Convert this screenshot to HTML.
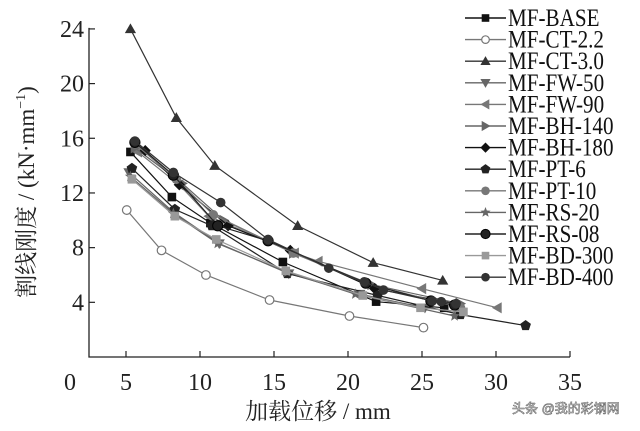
<!DOCTYPE html>
<html><head><meta charset="utf-8">
<style>
html,body{margin:0;padding:0;background:#fff;}
svg{display:block;}
text{font-family:"Liberation Serif","Noto Serif CJK SC",serif;}
</style></head>
<body>
<svg id="chart" width="640" height="431" viewBox="0 0 640 431" xmlns="http://www.w3.org/2000/svg">
<g id="plot"></g>
<g id="legend"></g>
<text transform="translate(34,192) rotate(-90)" text-anchor="middle" font-size="23" fill="#222" style='font-family:"Liberation Serif","Noto Serif CJK SC",serif'>割线刚度 / (kN·mm<tspan font-size="14" dy="-9">−1</tspan><tspan dy="9">)</tspan></text>
<text x="318" y="419" text-anchor="middle" font-size="23" fill="#222">加载位移 / mm</text>
<text x="512" y="413" font-size="13" fill="#fff" stroke="#666" stroke-width="0.6" style='font-family:"Liberation Sans","Noto Sans CJK SC",sans-serif'>头条 @我的彩钢网</text>
</svg>
<script>
const xTicks=[0,5,10,15,20,25,30,35];
const yTicks=[4,8,12,16,20,24];
const seriesNames=["MF-BASE","MF-CT-2.2","MF-CT-3.0","MF-FW-50","MF-FW-90","MF-BH-140","MF-BH-180","MF-PT-6","MF-PT-10","MF-RS-20","MF-RS-08","MF-BD-300","MF-BD-400"];
const baseX=[5.3,8.1,10.7,15.6,21.9,26.5], baseY=[15.0,11.7,9.8,6.95,4.05,3.6];
const ct22X=[5.05,7.4,10.4,14.7,20.1,25.1], ct22Y=[10.75,7.8,6.0,4.17,3.0,2.15];
const ct30X=[5.3,8.4,11.0,16.6,21.7,26.4], ct30Y=[24.0,17.5,14.0,9.6,6.9,5.6];
const fw50X=[5.2,8.2,11.3,16.0,20.8,25.2,27.5], fw50Y=[13.5,10.6,8.3,6.1,4.6,3.6,3.3];
const fw90X=[5.8,8.6,10.6,16.4,18.0,25.0,30.1], fw90Y=[15.0,12.6,10.3,7.6,7.0,5.0,3.6];
const bh140X=[5.6,8.8,11.6,16.3,21.6,27.6], bh140Y=[15.3,12.7,10.0,7.6,5.3,3.9];
const bh180X=[6.3,8.6,11.9,16.1,21.8,27.3], bh180Y=[15.1,12.6,9.6,7.8,5.0,3.9];
const pt6X=[5.4,8.3,10.8,15.9,22.0,27.6,32.0], pt6Y=[13.8,10.8,9.6,6.1,4.5,3.1,2.3];
const pt10X=[5.6,8.4,10.9,16.3,21.2,27.6], pt10Y=[15.6,13.0,10.4,7.6,5.4,3.6];
const rs20X=[5.3,8.2,11.2,15.9,20.5,27.2], rs20Y=[13.2,10.5,8.3,6.2,4.6,3.0];
const rs08X=[5.6,8.2,11.2,14.6,21.2,25.6,27.2], rs08Y=[15.7,13.3,9.6,8.5,5.4,4.1,3.8];
const bd300X=[5.4,8.3,11.1,15.8,21.0,24.9,27.8], bd300Y=[13.0,10.3,8.6,6.3,4.5,3.6,3.3];
const bd400X=[5.6,8.2,11.4,14.6,18.7,21.1,22.4,25.7,26.3,27.3], bd400Y=[15.8,13.5,11.3,8.6,6.5,5.5,4.9,4.1,4.05,3.9];

const seriesData=[[baseX,baseY],[ct22X,ct22Y],[ct30X,ct30Y],[fw50X,fw50Y],[fw90X,fw90Y],[bh140X,bh140Y],[bh180X,bh180Y],[pt6X,pt6Y],[pt10X,pt10Y],[rs20X,rs20Y],[rs08X,rs08Y],[bd300X,bd300Y],[bd400X,bd400Y]];
const styles=[
 {c:"#111",m:"square"},{c:"#777",m:"open"},{c:"#333",m:"tri"},{c:"#666",m:"tridown"},{c:"#777",m:"trileft"},
 {c:"#666",m:"triright"},{c:"#111",m:"diamond"},{c:"#222",m:"pent"},{c:"#777",m:"circle"},{c:"#666",m:"star"},
 {c:"#222",m:"ball"},{c:"#999",m:"square"},{c:"#333",m:"circle"}];
const NS="http://www.w3.org/2000/svg";
const X0=89,X1=572,Y0=357,Y1=20;
function sx(v){return 52+14.8*v;}
function sy(v){return 357-13.67*v;}
function mk(tag,attrs,parent){const e=document.createElementNS(NS,tag);for(const k in attrs)e.setAttribute(k,attrs[k]);parent.appendChild(e);return e;}
const plot=document.getElementById('plot');
const legend=document.getElementById('legend');
let ax=mk('path',{d:`M${X0},${sy(24)-1}V${Y0}H${sx(35)}`,stroke:"#222","stroke-width":1.3,fill:"none"},plot);


xTicks.forEach(t=>{
  if(t>0){const l=mk('line',{x1:sx(t),x2:sx(t),y1:Y0,y2:Y0-6,stroke:"#222","stroke-width":1.2},plot);
  
  }
  const tx=mk('text',{x:t===0?70:sx(t),y:390,"text-anchor":"middle","font-size":24,fill:"#222"},plot);
  tx.textContent=t;
  
  
});
yTicks.forEach(t=>{
  const l=mk('line',{x1:X0,x2:X0+6,y1:sy(t),y2:sy(t),stroke:"#222","stroke-width":1.2},plot);
  
  
  const tx=mk('text',{x:84,y:sy(t)+8,"text-anchor":"end","font-size":24,fill:"#222"},plot);
  tx.textContent=t;
  
  
});
function marker(type,x,y,c,parent,r){
  r=r||4.3;let e;
  if(type==="square")e=mk('rect',{x:x-r,y:y-r,width:2*r,height:2*r,fill:c},parent);
  else if(type==="open")e=mk('circle',{cx:x,cy:y,r:r,fill:"#fff",stroke:c,"stroke-width":1.2},parent);
  else if(type==="circle")e=mk('circle',{cx:x,cy:y,r:r+0.5,fill:c},parent);
  else if(type==="ball")e=mk('circle',{cx:x,cy:y,r:r+0.8,fill:c,stroke:"#000","stroke-width":1},parent);
  else{let pts;const R=r+1.3;
    if(type==="tri")pts=[[0,-R],[R,R*0.75],[-R,R*0.75]];
    else if(type==="tridown")pts=[[0,R],[R,-R*0.75],[-R,-R*0.75]];
    else if(type==="trileft")pts=[[-R,0],[R*0.75,-R],[R*0.75,R]];
    else if(type==="triright")pts=[[R,0],[-R*0.75,-R],[-R*0.75,R]];
    else if(type==="diamond")pts=[[0,-R],[R,0],[0,R],[-R,0]];
    else if(type==="pent"){pts=[];for(let i=0;i<5;i++){const a=-Math.PI/2+i*2*Math.PI/5;pts.push([R*Math.cos(a),R*Math.sin(a)]);}}
    else {pts=[];for(let i=0;i<10;i++){const a=-Math.PI/2+i*Math.PI/5;const rr=i%2?R*0.45:R*1.05;pts.push([rr*Math.cos(a),rr*Math.sin(a)]);}}
    e=mk('polygon',{points:pts.map(p=>(x+p[0])+","+(y+p[1])).join(" "),fill:c},parent);}
  return e;
}
seriesData.forEach((s,i)=>{
  const g=mk('g',{},plot);
  
  
  const st=styles[i];
  const d=s[0].map((v,j)=>(j?"L":"M")+sx(v)+","+sy(s[1][j])).join("");
  const p=mk('path',{d:d,stroke:st.c,"stroke-width":1.2,fill:"none"},g);
  
  
  s[0].forEach((v,j)=>{
    const m=marker(st.m,sx(v),sy(s[1][j]),st.c,g);
    
    
  });
  const ly=18+i*21.6;
  const lg=mk('g',{},legend);
  
  
  mk('line',{x1:465,x2:506,y1:ly,y2:ly,stroke:st.c,"stroke-width":1.4},lg);
  marker(st.m,485.5,ly,st.c,lg,3.8);
  const t=mk('text',{transform:`translate(508,${ly+8}) scale(0.88,1.05)`,"font-size":24,fill:"#111"},lg);
  t.textContent=seriesNames[i];
});
</script>
</body></html>
